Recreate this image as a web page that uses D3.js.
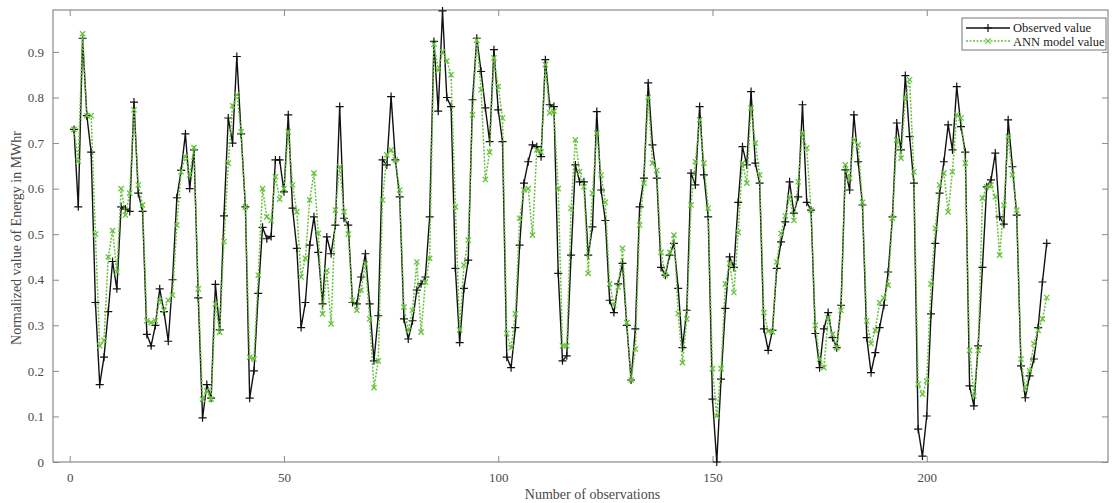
<!DOCTYPE html>
<html><head><meta charset="utf-8">
<script src="https://cdn.jsdelivr.net/npm/d3@7"></script>
<style>body{margin:0;background:#fff}svg{display:block}</style>
</head><body>
<svg id="c" width="1113" height="503"></svg>
<script>
const observed = [0.73,0.56,0.93,0.76,0.68,0.35,0.17,0.23,0.33,0.44,
0.38,0.56,0.555,0.55,0.79,0.59,0.55,0.28,0.255,0.30,
0.38,0.33,0.265,0.40,0.58,0.64,0.72,0.60,0.685,0.36,
0.097,0.17,0.14,0.39,0.29,0.54,0.755,0.70,0.89,0.72,
0.56,0.14,0.20,0.37,0.515,0.49,0.495,0.663,0.663,0.593,
0.762,0.557,0.469,0.295,0.35,0.476,0.538,0.46,0.347,0.494,
0.457,0.52,0.78,0.535,0.52,0.35,0.347,0.406,0.457,0.347,
0.222,0.321,0.663,0.652,0.802,0.663,0.582,0.314,0.27,0.31,
0.377,0.391,0.406,0.538,0.923,0.77,0.99,0.80,0.78,0.425,
0.262,0.381,0.443,0.795,0.93,0.857,0.777,0.703,0.905,0.773,
0.703,0.23,0.207,0.295,0.476,0.612,0.659,0.696,0.692,0.67,
0.883,0.784,0.78,0.414,0.222,0.233,0.454,0.652,0.615,0.615,
0.454,0.516,0.769,0.597,0.53,0.355,0.328,0.391,0.436,0.30,
0.18,0.292,0.56,0.623,0.832,0.696,0.623,0.427,0.41,0.454,
0.48,0.381,0.251,0.333,0.634,0.608,0.78,0.63,0.538,0.138,
0.0,0.182,0.337,0.45,0.427,0.57,0.692,0.652,0.813,0.656,
0.612,0.292,0.245,0.289,0.425,0.483,0.527,0.615,0.546,0.582,
0.784,0.57,0.553,0.282,0.207,0.292,0.328,0.273,0.251,0.344,
0.641,0.597,0.762,0.659,0.564,0.273,0.196,0.24,0.295,0.344,
0.417,0.538,0.744,0.685,0.848,0.714,0.612,0.072,0.013,0.101,
0.325,0.48,0.59,0.659,0.74,0.685,0.824,0.736,0.68,0.167,
0.123,0.255,0.427,0.604,0.619,0.678,0.538,0.522,0.751,0.648,
0.542,0.211,0.141,0.189,0.226,0.295,0.395,0.48];

const annModel = [0.73,0.66,0.94,0.76,0.76,0.50,0.255,0.267,0.45,0.508,
0.417,0.60,0.542,0.59,0.773,0.608,0.564,0.31,0.306,0.31,
0.355,0.333,0.355,0.366,0.52,0.637,0.67,0.63,0.69,0.38,
0.138,0.156,0.138,0.347,0.285,0.484,0.656,0.782,0.806,0.725,
0.56,0.23,0.226,0.41,0.60,0.538,0.53,0.626,0.577,0.60,
0.725,0.608,0.549,0.406,0.447,0.575,0.634,0.502,0.325,0.42,
0.303,0.553,0.648,0.549,0.50,0.355,0.333,0.377,0.435,0.314,
0.163,0.222,0.575,0.674,0.685,0.663,0.597,0.34,0.289,0.333,
0.439,0.285,0.395,0.447,0.917,0.86,0.90,0.88,0.85,0.56,
0.29,0.432,0.487,0.762,0.926,0.817,0.62,0.68,0.887,0.824,
0.755,0.282,0.251,0.325,0.535,0.597,0.60,0.498,0.685,0.68,
0.872,0.766,0.77,0.60,0.255,0.255,0.557,0.707,0.637,0.604,
0.414,0.59,0.722,0.63,0.57,0.391,0.344,0.384,0.469,0.306,
0.18,0.248,0.52,0.612,0.80,0.656,0.64,0.46,0.41,0.46,
0.498,0.326,0.218,0.314,0.564,0.659,0.751,0.656,0.557,0.205,
0.101,0.205,0.391,0.436,0.372,0.504,0.656,0.612,0.777,0.70,
0.63,0.328,0.287,0.285,0.439,0.502,0.54,0.582,0.53,0.615,
0.722,0.689,0.553,0.30,0.226,0.207,0.317,0.28,0.251,0.333,
0.652,0.623,0.707,0.696,0.57,0.31,0.26,0.289,0.35,0.36,
0.388,0.535,0.707,0.667,0.80,0.839,0.637,0.171,0.149,0.178,
0.391,0.513,0.608,0.634,0.549,0.637,0.762,0.755,0.656,0.245,
0.145,0.245,0.579,0.604,0.608,0.582,0.454,0.564,0.714,0.63,
0.553,0.226,0.16,0.20,0.26,0.289,0.314,0.361];

const xTickValues = [0, 50, 100, 150, 200];
const yTickValues = [0, 0.1, 0.2, 0.3, 0.4, 0.5, 0.6, 0.7, 0.8, 0.9];
const seriesNames = ["Observed value", "ANN model value"];
const xTitle = "Number of observations";
const yTitle = "Normalized value of Energy in MWhr";

const W = 1113, H = 503;
const L = 53, R = 1108, T = 10, B = 462;
const svg = d3.select("#c");
const font = "'Liberation Serif','Times New Roman',serif";

const x = d3.scaleLinear().domain([-3.9, 242.3]).range([L, R]);
const y = d3.scaleLinear().domain([0, 0.992]).range([B, T]);

const obsData = observed.map((v, i) => [i + 1, v]);
const annData = annModel.map((v, i) => [i + 1, v]);

const axisColor = "#8a8a8a", textColor = "#4a4a4a";

// frame
svg.append("rect").attr("x", L).attr("y", T).attr("width", R - L).attr("height", B - T)
  .attr("fill", "#fff").attr("stroke", axisColor).attr("stroke-width", 1.2);

function styleAxis(g) {
  g.select(".domain").remove();
  g.selectAll(".tick line").attr("stroke", axisColor).attr("stroke-width", 1);
  g.selectAll("text").attr("fill", textColor).attr("font-family", font).attr("font-size", 13);
}
svg.append("g").attr("transform", `translate(0,${B})`)
  .call(d3.axisBottom(x).tickValues(xTickValues).tickSize(-6).tickPadding(11).tickFormat(d3.format("d")))
  .call(styleAxis);
svg.append("g").attr("transform", `translate(0,${T})`)
  .call(d3.axisTop(x).tickValues(xTickValues).tickSize(-6).tickFormat(""))
  .call(styleAxis);
svg.append("g").attr("transform", `translate(${L},0)`)
  .call(d3.axisLeft(y).tickValues(yTickValues).tickSize(-6).tickPadding(9).tickFormat(d => d === 0 ? "0" : d3.format(".1f")(d)))
  .call(styleAxis);
svg.append("g").attr("transform", `translate(${R},0)`)
  .call(d3.axisRight(y).tickValues(yTickValues).tickSize(-6).tickFormat(""))
  .call(styleAxis);

// titles
svg.append("text").attr("x", (L + R) / 2 + 12).attr("y", 499).attr("text-anchor", "middle")
  .attr("font-family", font).attr("font-size", 14).attr("fill", textColor).text(xTitle);
svg.append("text").attr("transform", `translate(21,${(T + B) / 2 + 2}) rotate(-90)`).attr("text-anchor", "middle")
  .attr("font-family", font).attr("font-size", 14).attr("fill", textColor).text(yTitle);

const plot = svg.append("g");
const line = d3.line().x(d => x(d[0])).y(d => y(d[1]));

const blackCol = "#111", greenCol = "#66c23c";

plot.append("path").datum(obsData).attr("d", line).attr("fill", "none")
  .attr("stroke", blackCol).attr("stroke-width", 1.4);
const plus = (g, cx, cy, s, col, w) => {
  g.append("path").attr("d", `M${cx - s},${cy}H${cx + s}M${cx},${cy - s}V${cy + s}`)
    .attr("stroke", col).attr("stroke-width", w).attr("fill", "none");
};
const cross = (g, cx, cy, s, col, w) => {
  g.append("path").attr("d", `M${cx - s},${cy - s}L${cx + s},${cy + s}M${cx - s},${cy + s}L${cx + s},${cy - s}`)
    .attr("stroke", col).attr("stroke-width", w).attr("fill", "none");
};
const mk = plot.append("g");
obsData.forEach(d => plus(mk, x(d[0]), y(d[1]), 4, blackCol, 1.2));

plot.append("path").datum(annData).attr("d", line).attr("fill", "none")
  .attr("stroke", greenCol).attr("stroke-width", 1.5).attr("stroke-dasharray", "2,1.5");
const mk2 = plot.append("g");
annData.forEach(d => cross(mk2, x(d[0]), y(d[1]), 2.6, greenCol, 1.3));

// legend
const lg = svg.append("g");
lg.append("rect").attr("x", 962).attr("y", 18).attr("width", 144).attr("height", 32)
  .attr("fill", "#fff").attr("stroke", "#777").attr("stroke-width", 1);
lg.append("line").attr("x1", 966).attr("x2", 1010).attr("y1", 28).attr("y2", 28)
  .attr("stroke", blackCol).attr("stroke-width", 1.4);
plus(lg, 988, 28, 4, blackCol, 1.2);
lg.append("line").attr("x1", 966).attr("x2", 1010).attr("y1", 41).attr("y2", 41)
  .attr("stroke", greenCol).attr("stroke-width", 1.5).attr("stroke-dasharray", "2,1.5");
cross(lg, 988, 41, 2.6, greenCol, 1.3);
lg.append("text").attr("x", 1013).attr("y", 32).attr("font-family", font).attr("font-size", 12.5)
  .attr("fill", "#222").text(seriesNames[0]);
lg.append("text").attr("x", 1013).attr("y", 45.5).attr("font-family", font).attr("font-size", 12.5)
  .attr("fill", "#222").text(seriesNames[1]);
</script>
</body></html>
